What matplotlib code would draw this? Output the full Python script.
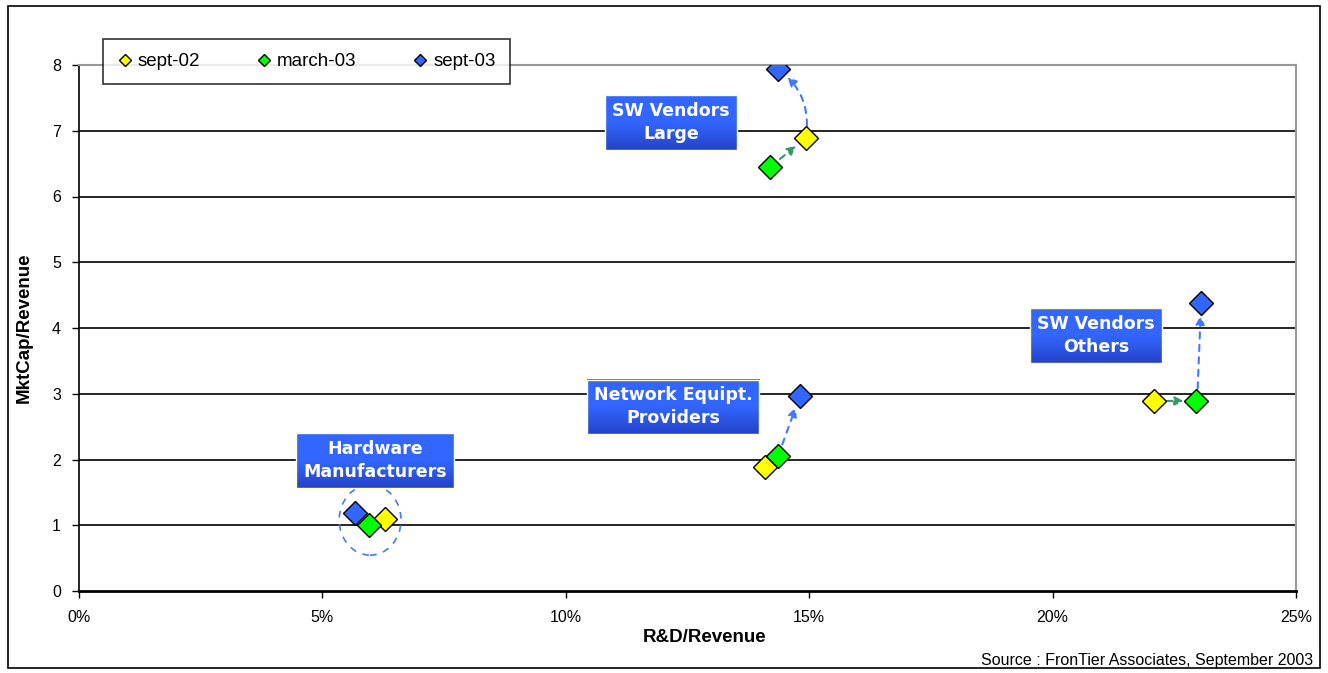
import numpy as np
import matplotlib.pyplot as plt
from matplotlib.patches import Ellipse, Rectangle
from matplotlib.colors import LinearSegmentedColormap
from matplotlib.ticker import FuncFormatter

# R&D/Revenue (fraction) and MktCap/Revenue per segment, three snapshots
segments = ['Hardware\nManufacturers', 'Network Equipt.\nProviders', 'SW Vendors\nLarge', 'SW Vendors\nOthers']
sept02_x = [0.0629, 0.1409, 0.1493, 0.2208]
sept02_y = [1.09, 1.89, 6.89, 2.89]
march03_x = [0.0596, 0.1436, 0.1420, 0.2295]
march03_y = [1.00, 2.05, 6.45, 2.89]
sept03_x = [0.0567, 0.1481, 0.1436, 0.2305]
sept03_y = [1.19, 2.97, 7.94, 4.38]

# label box positions (data coords)
label_x = [0.0608, 0.1220, 0.1216, 0.2089]
label_y = [1.98, 2.80, 7.13, 3.89]

YELLOW = '#ffff00'
GREEN = '#00ff00'
BLUE = '#3366ff'
ARROW_BLUE = '#4477ff'
ARROW_GREEN = '#339966'

fig = plt.figure(figsize=(13.28, 6.73), dpi=100)
plt.rcParams['font.family'] = ['Liberation Sans', 'DejaVu Sans']
ax = fig.add_axes([79 / 1328, 1 - 591 / 673, (1296 - 79) / 1328, (591 - 65) / 673])

ax.set_xticks([0, 0.05, 0.10, 0.15, 0.20, 0.25])
ax.xaxis.set_major_formatter(FuncFormatter(lambda v, p: f'{v * 100:.0f}%'))
ax.set_yticks(range(0, 9))
ax.tick_params(direction='out', length=5, width=1, labelsize=11.5, color='black')
ax.tick_params(axis='x', pad=9)
ax.tick_params(axis='y', pad=8)

for yy in range(1, 8):
    ax.axhline(yy, color='black', lw=1.2, zorder=1)
ax.spines['top'].set_color('#999999')
ax.spines['right'].set_color('#999999')
ax.spines['top'].set_linewidth(1.5)
ax.spines['right'].set_linewidth(1.5)
ax.spines['left'].set_linewidth(1.2)
ax.spines['bottom'].set_linewidth(2)

# arrows between snapshots
def arrow(p0, p1, color, rad=0.0):
    ax.annotate('', xy=p1, xytext=p0,
                arrowprops=dict(arrowstyle='-|>', color=color, lw=1.5, linestyle=(0, (3, 3)),
                                mutation_scale=13, shrinkA=9, shrinkB=9,
                                connectionstyle=f'arc3,rad={rad}'), zorder=2)

# SW large: march -> sept-02 point, then curve up to sept-03
arrow((march03_x[2], march03_y[2]), (sept02_x[2], sept02_y[2]), ARROW_GREEN)
arrow((sept02_x[2], sept02_y[2]), (sept03_x[2], sept03_y[2]), ARROW_BLUE, rad=0.3)
# network: march -> sept-03
arrow((march03_x[1], march03_y[1]), (sept03_x[1], sept03_y[1]), ARROW_BLUE)
# SW others
arrow((sept02_x[3], sept02_y[3]), (march03_x[3], march03_y[3]), ARROW_GREEN)
arrow((march03_x[3] + 0.0002, march03_y[3]), (sept03_x[3], sept03_y[3]), ARROW_BLUE)

# hardware cluster barely moved -> dashed circle
ax.add_patch(Ellipse((0.0598, 1.08), 0.0127, 1.07, fill=False, ec=ARROW_BLUE,
                     lw=1.2, ls=(0, (4, 4)), zorder=2))

ms = 12
ax.plot(sept02_x, sept02_y, 'D', ms=ms, mfc=YELLOW, mec='black', mew=1, ls='none', label='sept-02', zorder=4)
ax.plot(march03_x, march03_y, 'D', ms=ms, mfc=GREEN, mec='black', mew=1, ls='none', label='march-03', zorder=4)
ax.plot(sept03_x, sept03_y, 'D', ms=ms, mfc=BLUE, mec='black', mew=1, ls='none', label='sept-03', zorder=4)

ax.set_xlim(0, 0.25)
ax.set_ylim(0, 8)

labels = []
for name, lx, ly in zip(segments, label_x, label_y):
    t = ax.text(lx, ly, name, ha='center', va='center', color='white', fontsize=12.5,
                fontweight='bold', family='DejaVu Sans', linespacing=1.35, zorder=6,
                bbox=dict(boxstyle='square,pad=0.4', fc='none', ec='#ffffcc', lw=1))
    labels.append(t)

# blue gradient fill behind each label box
fig.canvas.draw()
grad_cmap = LinearSegmentedColormap.from_list('boxgrad', ['#2443c8', '#3366ff', '#3366ff'])
grad = np.linspace(0, 1, 64).reshape(-1, 1)
inv = ax.transData.inverted()
for t in labels:
    ext = t.get_bbox_patch().get_window_extent()
    (x0, y0), (x1, y1) = inv.transform([(ext.x0, ext.y0), (ext.x1, ext.y1)])
    ax.imshow(grad, cmap=grad_cmap, extent=(x0, x1, y0, y1), origin='lower',
              aspect='auto', zorder=5, interpolation='bilinear')
ax.set_xlim(0, 0.25)
ax.set_ylim(0, 8)

leg = ax.legend(loc='upper left', bbox_to_anchor=(103 / 1328, 1 - 39 / 673),
                bbox_transform=fig.transFigure, ncol=3, fontsize=13.5, markerscale=0.55,
                handlelength=0.8, handletextpad=0.3, columnspacing=3.0,
                frameon=True, fancybox=False, borderpad=0.75, borderaxespad=0)
leg.get_frame().set_edgecolor('black')
leg.get_frame().set_linewidth(1.2)
leg.set_zorder(7)

ax.set_ylabel('MktCap/Revenue', fontsize=13.5, fontweight='bold', labelpad=14)
fig.text(705 / 1328, 1 - 637 / 673, 'R&D/Revenue', ha='center', va='center',
         fontsize=13.5, fontweight='bold')
fig.text(1313 / 1328, 1 - 660 / 673, 'Source : FronTier Associates, September 2003',
         ha='right', va='center', fontsize=11.5)

# outer frame
fig.patches.append(Rectangle((8 / 1328, 1 - 668 / 673), 1312 / 1328, 662 / 673,
                             transform=fig.transFigure, fill=False, ec='black', lw=1.2))

fig.savefig('out.png', dpi=100)
